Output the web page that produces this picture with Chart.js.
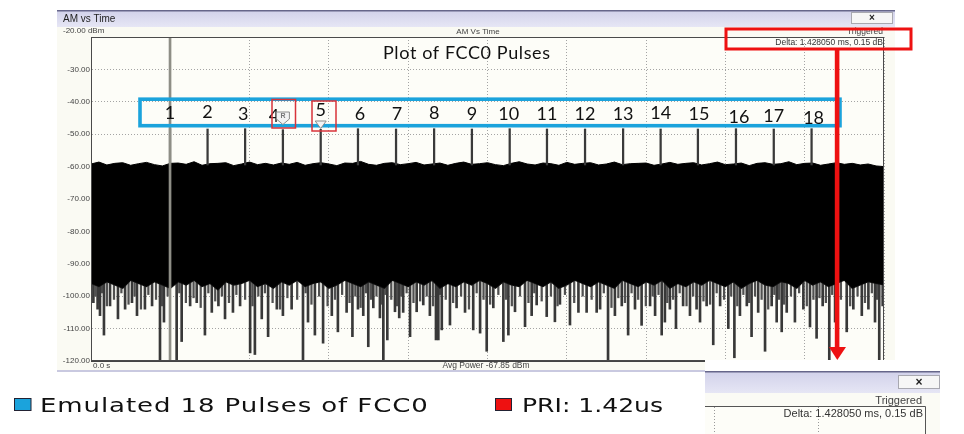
<!DOCTYPE html>
<html><head><meta charset="utf-8">
<script src="https://cdn.jsdelivr.net/npm/chart.js@4.4.1/dist/chart.umd.min.js"></script>
<style>html,body{margin:0;padding:0;background:#fff;overflow:hidden}canvas{display:block}</style>
</head><body>
<canvas id="c" width="964" height="434"></canvas>
<script>
// ---------- data ----------
const yTickValues = [-120,-110,-100,-90,-80,-70,-60,-50,-40,-30,-20];
const xGridValues = [0,3,6,9,12,15,18,21,24,27,30]; // ms
const pulseLabels = ['1','2','3','4','5','6','7','8','9','10','11','12','13','14','15','16','17','18'];
const pulseTimes = [2.99,4.41,5.83,7.26,8.69,10.10,11.54,12.98,14.41,15.84,17.25,18.69,20.13,21.55,22.96,24.40,25.83,27.26];
const pulseTops = [-48.3,-48.4,-48.3,-48.6,-48.5,-48.3,-48.4,-48.3,-48.4,-48.3,-48.4,-48.4,-48.3,-48.4,-48.4,-48.3,-48.4,-48.3];
const pulseBase = -59.5;
const markerTime = 2.99;
const noiseT = [0,0.3,0.6,0.9,1.2,1.5,1.8,2.1,2.4,2.7,3,3.3,3.6,3.9,4.2,4.5,4.8,5.1,5.4,5.7,6,6.3,6.6,6.9,7.2,7.5,7.8,8.1,8.4,8.7,9,9.3,9.6,9.9,10.2,10.5,10.8,11.1,11.4,11.7,12,12.3,12.6,12.9,13.2,13.5,13.8,14.1,14.4,14.7,15,15.3,15.6,15.9,16.2,16.5,16.8,17.1,17.4,17.7,18,18.3,18.6,18.9,19.2,19.5,19.8,20.1,20.4,20.7,21,21.3,21.6,21.9,22.2,22.5,22.8,23.1,23.4,23.7,24,24.3,24.6,24.9,25.2,25.5,25.8,26.1,26.4,26.7,27,27.3,27.6,27.9,28.2,28.5,28.8,29.1,29.4,29.7,30];
const noiseTop = [
-59.2,-58.6,-59.5,-59.0,-58.8,-59.6,-59.1,-58.7,-59.4,-59.8,
-59.0,-58.9,-59.3,-58.5,-59.6,-59.1,-59.0,-58.8,-59.7,-59.2,
-58.6,-59.4,-59.0,-59.5,-58.9,-59.3,-58.7,-59.6,-59.1,-58.8,
-59.2,-59.7,-58.9,-59.0,-58.4,-59.3,-59.6,-59.0,-58.8,-59.4,
-59.1,-58.7,-59.5,-59.2,-58.9,-59.6,-59.0,-58.6,-59.3,-59.1,
-58.8,-59.4,-59.7,-59.0,-58.5,-59.2,-59.5,-58.9,-59.1,-59.6,
-58.7,-59.3,-59.0,-58.8,-59.5,-59.2,-58.6,-59.4,-59.1,-59.0,
-58.9,-59.6,-59.2,-58.7,-59.3,-59.0,-58.8,-59.5,-59.1,-58.6,
-59.4,-59.2,-58.9,-59.7,-59.0,-58.8,-59.3,-59.1,-58.5,-59.4,
-59.0,-58.9,-59.6,-59.2,-58.8,-59.3,-59.0,-59.5,-59.2,-59.8,
-60.0];
const noiseBottom = [
-96,-97,-95.5,-96.5,-97.5,-95,-96,-97,-95.5,-96.5,
-97.5,-95.5,-96.5,-95,-97,-96,-98,-95.5,-96.5,-96,
-95,-97,-96,-97.5,-95.5,-96.5,-95,-97,-96,-95.5,
-97.5,-96.5,-95,-96,-97,-95.5,-96.5,-97.5,-95,-96,
-97,-95.5,-96.5,-95,-97.5,-96,-97,-95.5,-96.5,-95,
-96,-97.5,-95.5,-96.5,-97,-95,-96,-97,-95.5,-97.5,
-96.5,-95,-96,-97,-95.5,-96.5,-97.5,-95,-96,-97,
-95.5,-96.5,-95,-97.5,-96,-97,-95.5,-96.5,-95,-96,
-97,-95.5,-97.5,-96,-95,-96.5,-97,-95.5,-96,-97.5,
-95,-96.5,-95.5,-97,-96,-95,-97.5,-96.5,-95.5,-96,
-96.5];
const spikeStart = -95;
const spikeT = [0.09,0.25,0.34,0.49,0.72,1.02,1.29,1.55,1.74,2.04,2.31,2.61,2.76,3.24,3.43,3.75,4.00,4.31,4.57,4.82,5.07,5.37,5.64,6.02,6.20,6.46,6.70,7.03,7.26,7.59,8.02,8.21,8.47,8.78,9.11,9.34,9.67,9.89,10.10,10.30,10.49,10.68,10.93,11.06,11.21,11.50,11.66,11.81,12.07,12.32,12.57,12.82,13.05,13.14,13.27,13.58,13.83,14.15,14.46,14.72,14.97,15.22,15.60,15.79,16.04,16.42,16.67,16.86,17.24,17.55,17.74,18.12,18.44,18.75,19.13,19.26,19.56,19.82,20.08,20.32,20.58,20.83,21.15,21.34,21.59,21.71,21.90,22.13,22.40,22.66,22.91,23.04,23.29,23.54,23.80,24.11,24.34,24.55,24.81,24.99,25.24,25.50,25.75,25.94,26.13,26.32,26.63,26.95,27.20,27.45,27.68,27.93,28.15,28.59,28.84,29.16,29.41,29.66,29.82,29.95];
const spikeLow = [-102,-104,-106,-112,-103,-107,-104,-102,-106,-104,-103,-120,-108,-120,-114,-103,-102,-112,-105,-103,-107,-105,-103,-117.5,-118,-107,-112.5,-104,-106,-104,-120,-108,-112,-114.5,-106,-111,-105,-112.5,-104,-106,-115.6,-103.6,-106.7,-120,-113.5,-104.8,-106.7,-105,-112.5,-104.8,-102.7,-106,-113.5,-113.5,-110.4,-108.9,-103.6,-105,-110.4,-111.4,-117,-103.6,-114,-112,-104.8,-109.4,-106,-102.7,-106.3,-107.9,-102.5,-108.9,-105,-105,-105,-104,-120,-106,-103,-112,-104,-109,-103,-106,-112,-108,-104,-110,-103,-106,-104,-108,-103,-115,-103,-110,-119,-106,-103,-112.5,-105,-117,-103,-108,-111,-105,-108,-104,-109.5,-113,-103,-120,-108,-111,-104,-106,-104,-108,-120,-103];
const shortSpikeT = [
0.17,0.30,0.42,0.60,0.87,1.15,1.42,1.65,1.89,2.17,
2.46,2.69,2.90,3.34,3.59,3.88,4.15,4.44,4.70,4.95,
5.22,5.50,5.83,6.11,6.33,6.58,6.87,7.15,7.43,7.80,
8.12,8.34,8.63,8.95,9.23,9.50,9.78,10.00,10.20,10.40,
10.59,10.80,11.00,11.14,11.36,11.58,11.74,11.94,12.20,12.45,
12.70,12.94,13.20,13.42,13.70,14.00,14.30,14.59,14.85,15.10,
15.41,15.70,15.92,16.23,16.55,16.77,17.05,17.40,17.65,17.93,
18.28,18.60,18.94,19.40,19.69,19.95,20.20,20.45,20.70,20.99,
21.25,21.47,21.80,22.02,22.27,22.53,22.78,23.17,23.42,23.67,
23.95,24.22,24.45,24.68,24.90,25.12,25.37,25.62,25.85,26.03,
26.22,26.48,26.79,27.08,27.33,27.56,27.80,28.04,28.37,28.72,
29.00,29.28,29.54,29.74];
const shortSpikeLow = [
-100,-102,-99,-103,-101,-99,-102.5,-100,-104,-99.5,
-101,-103,-100,-99,-102,-100.5,-103.5,-99,-101.5,-100,
-102,-99.5,-101,-103,-100,-99,-102,-104,-100.5,-101,
-99,-102.5,-100,-103,-101,-99.5,-102,-100,-103.5,-99,
-101,-100,-102.5,-99.5,-101,-103,-100,-99,-102,-101.5,
-100,-103,-99.5,-101,-102,-100,-104,-99,-101,-102.5,
-99.5,-101,-103,-100,-102,-99,-101.5,-100,-103,-99.5,
-102,-100,-101,-99,-103.5,-100.5,-102,-99,-101,-103,
-100,-99.5,-102,-101,-99,-103,-100,-101.5,-102.5,-99,
-101,-100,-103,-99.5,-102,-100,-101,-104,-99.5,-101,
-102.5,-100,-99,-103,-101,-100.5,-102,-99.5,-101,-103,
-100,-102,-99,-101];
const chartTitle = 'Plot of FCC0 Pulses';
const windowTitle = 'AM vs Time';
const deltaText = 'Delta: 1.428050 ms, 0.15 dB';
const avgPowerText = 'Avg Power -67.85 dBm';
const legendTexts = ['Emulated 18 Pulses of FCC0', 'PRI: 1.42us'];

// ---------- helpers ----------
const pts = (xs, ys) => xs.slice(0, Math.min(xs.length, ys.length)).map((x, i) => ({x, y: ys[i]}));
const bars = (xs, a, b) => xs.slice(0, Array.isArray(b) ? Math.min(xs.length, b.length) : xs.length)
  .map((x, i) => ({x, y: [Array.isArray(a) ? a[i] : a, Array.isArray(b) ? b[i] : b]}));
const SM = 'Liberation Sans, Arial, sans-serif';

function wideText(ctx, text, x, y, width, font, maxScale) {
  ctx.save();
  ctx.font = font; ctx.letterSpacing = '0px';
  const w = ctx.measureText(text).width;
  const s = Math.min(maxScale, width / w);
  const n = [...text].length;
  const sp = (width / s - w) / Math.max(1, n - 1);
  ctx.translate(x, y); ctx.scale(s, 1);
  ctx.letterSpacing = sp.toFixed(2) + 'px';
  ctx.textAlign = 'left';
  ctx.fillText(text, 0, 0);
  ctx.restore();
}
function txt(ctx, s, x, y, font, color, align, base) {
  ctx.font = font; ctx.fillStyle = color; ctx.textAlign = align || 'left'; ctx.textBaseline = base || 'middle';
  ctx.fillText(s, x, y);
}
function titleBar(ctx, x, y, w, h) {
  const g = ctx.createLinearGradient(0, y, 0, y + h);
  g.addColorStop(0, '#d2d2ea'); g.addColorStop(1, '#e6e6f5');
  ctx.fillStyle = g; ctx.fillRect(x, y, w, h);
  ctx.fillStyle = '#66668a'; ctx.fillRect(x, y - 1, w, 1.5);
}
function closeBtn(ctx, x, y, w, h, size) {
  ctx.fillStyle = '#f6f6f6'; ctx.fillRect(x, y, w, h);
  ctx.strokeStyle = '#a8a8b0'; ctx.lineWidth = 1; ctx.strokeRect(x + 0.5, y + 0.5, w - 1, h - 1);
  txt(ctx, '\u00d7', x + w / 2, y + h / 2 + 0.5, 'bold ' + size + 'px ' + SM, '#222', 'center');
}

const chromePlugin = {
  id: 'chrome',
  beforeDraw(chart) {
    const ctx = chart.ctx, a = chart.chartArea;
    ctx.save();
    ctx.fillStyle = '#ffffff'; ctx.fillRect(0, 0, 964, 434);
    // analyzer window
    ctx.fillStyle = '#fafaf3'; ctx.fillRect(57, 10, 838, 361);
    titleBar(ctx, 57, 11, 838, 16);
    closeBtn(ctx, 851, 12, 42, 12, 10);
    txt(ctx, windowTitle, 63, 19, '10px ' + SM, '#222');
    txt(ctx, '-20.00 dBm', 63, 31, '8px ' + SM, '#444');
    txt(ctx, 'AM Vs Time', 478, 32, '8px ' + SM, '#444', 'center');
    txt(ctx, 'Triggered', 883, 32, '8.5px ' + SM, '#444', 'right');
    // plot background
    ctx.fillStyle = '#fdfdf8'; ctx.fillRect(a.left, a.top, a.right - a.left, a.bottom - a.top);
    // status strip
    txt(ctx, '0.0 s', a.left + 2, 366, '8px ' + SM, '#444');
    txt(ctx, avgPowerText, 486, 366, '8.5px ' + SM, '#444', 'center');
    ctx.fillStyle = '#c9c9e0'; ctx.fillRect(57, 370, 838, 2);
    ctx.restore();
  },
  afterDraw(chart) {
    const ctx = chart.ctx, a = chart.chartArea;
    const xs = chart.scales.x;
    ctx.save();
    // plot frame
    ctx.strokeStyle = '#4a4a4a'; ctx.lineWidth = 1;
    ctx.strokeRect(a.left + 0.5, a.top + 0.5, a.right - a.left - 1, a.bottom - a.top - 1);
    // delta readout
    txt(ctx, deltaText, 883, 43, '8.5px ' + SM, '#333', 'right');
    // chart title
    ctx.fillStyle = '#111'; ctx.textBaseline = 'middle';
    wideText(ctx, chartTitle, 383, 53, 167, '18px Lato, Carlito, sans-serif', 1.0);
    // blue pulse frame
    ctx.strokeStyle = '#1ba3dc'; ctx.lineWidth = 3.6;
    ctx.strokeRect(140, 99.2, 700, 26.5);
    // pulse numbers
    const ny = [113,112,114,116,110,114,114,113,114,114,114,114,114,113,114,117,116,118];
    const ndx = [0,0,-2,-9,0,2,1,0,0,-1,0,0,0,0,1,3,0,2];
    pulseLabels.forEach((s, i) => {
      const px = xs.getPixelForValue(pulseTimes[i]);
      txt(ctx, s, px + ndx[i], ny[i], '18px Lato, Carlito, sans-serif', '#111', 'center');
    });
    // reference marker R on pulse 4, delta marker on pulse 5
    const p4 = xs.getPixelForValue(pulseTimes[3]), p5 = xs.getPixelForValue(pulseTimes[4]);
    ctx.beginPath();
    ctx.moveTo(p4 - 6.5, 112); ctx.lineTo(p4 + 6.5, 112); ctx.lineTo(p4 + 6.5, 119);
    ctx.lineTo(p4, 124.5); ctx.lineTo(p4 - 6.5, 119); ctx.closePath();
    ctx.fillStyle = '#f2f2f2'; ctx.fill(); ctx.strokeStyle = '#8a8a8a'; ctx.lineWidth = 1; ctx.stroke();
    txt(ctx, 'R', p4, 116.5, 'bold 7px ' + SM, '#777', 'center');
    ctx.beginPath();
    ctx.moveTo(p5 - 5.5, 121); ctx.lineTo(p5 + 5.5, 121); ctx.lineTo(p5, 128.5); ctx.closePath();
    ctx.fillStyle = '#f4f4f4'; ctx.fill(); ctx.strokeStyle = '#8a8a8a'; ctx.stroke();
    // red boxes around 4 and 5
    ctx.strokeStyle = '#d8333a'; ctx.lineWidth = 1.5;
    ctx.strokeRect(272, 99.5, 23.5, 28.5);
    ctx.strokeRect(312, 101, 24, 30);
    // red delta box + arrow
    ctx.strokeStyle = '#ee1111'; ctx.lineWidth = 3;
    ctx.strokeRect(726, 29, 185, 20);
    ctx.fillStyle = '#ee1111';
    ctx.fillRect(834.8, 50, 4.6, 298);
    ctx.beginPath(); ctx.moveTo(829, 347); ctx.lineTo(846, 347); ctx.lineTo(837.3, 360); ctx.closePath(); ctx.fill();
    // zoomed inset
    ctx.fillStyle = '#ffffff'; ctx.fillRect(705, 360, 235, 74);
    titleBar(ctx, 705, 372, 235, 21);
    closeBtn(ctx, 898, 375, 42, 14, 12);
    ctx.fillStyle = '#fbfbf5'; ctx.fillRect(705, 393, 235, 41);
    txt(ctx, 'Triggered', 922, 400.5, '11px ' + SM, '#444', 'right');
    ctx.fillStyle = '#fdfdf8'; ctx.fillRect(705, 406, 220, 28);
    ctx.strokeStyle = '#555'; ctx.lineWidth = 1;
    ctx.beginPath(); ctx.moveTo(705, 406.5); ctx.lineTo(925.5, 406.5); ctx.lineTo(925.5, 434); ctx.stroke();
    ctx.strokeStyle = '#999'; ctx.setLineDash([1, 2]);
    ctx.beginPath(); ctx.moveTo(714.5, 407); ctx.lineTo(714.5, 434); ctx.moveTo(818.5, 407); ctx.lineTo(818.5, 434); ctx.stroke();
    ctx.setLineDash([]);
    txt(ctx, deltaText, 923, 414, '11px ' + SM, '#333', 'right');
    // slide legend
    ctx.fillStyle = '#1ba3dc'; ctx.fillRect(14.5, 398.5, 16.5, 12);
    ctx.strokeStyle = '#223'; ctx.lineWidth = 1; ctx.strokeRect(14.5, 398.5, 16.5, 12);
    ctx.fillStyle = '#ee1111'; ctx.fillRect(495.5, 398.5, 16, 12);
    ctx.strokeRect(495.5, 398.5, 16, 12);
    ctx.fillStyle = '#111'; ctx.textBaseline = 'alphabetic';
    wideText(ctx, legendTexts[0], 40, 412, 388, '20px "DejaVu Sans", sans-serif', 1.3);
    wideText(ctx, legendTexts[1], 522, 412, 141, '20px "DejaVu Sans", sans-serif', 1.3);
    ctx.restore();
  }
};

new Chart(document.getElementById('c'), {
  type: 'line',
  data: {
    datasets: [
      { type: 'bar', label: 'marker', data: bars([markerTime], -120, -20), backgroundColor: '#8e8e86',
        barThickness: 2, grouped: false },
      { type: 'bar', label: 'pulses', data: bars(pulseTimes, pulseBase, pulseTops), backgroundColor: '#3a3a3a',
        barThickness: 1.6, grouped: false },
      { type: 'line', label: 'noise top', data: pts(noiseT, noiseTop), borderColor: '#000', borderWidth: 1,
        backgroundColor: '#000', fill: '+1', pointRadius: 0, tension: 0 },
      { type: 'line', label: 'noise floor', data: pts(noiseT, noiseBottom), borderColor: '#111', borderWidth: 1.5,
        pointRadius: 0, tension: 0, fill: false },
      { type: 'bar', label: 'noise spikes', data: bars(spikeT, spikeStart, spikeLow), backgroundColor: '#383838',
        barThickness: 2, grouped: false },
      { type: 'bar', label: 'short spikes', data: bars(shortSpikeT, spikeStart, shortSpikeLow), backgroundColor: '#505050',
        barThickness: 1.6, grouped: false }
    ]
  },
  options: {
    responsive: false, devicePixelRatio: 1, animation: false,
    layout: { padding: { left: 0, top: 37, right: 80, bottom: 73 } },
    plugins: { legend: { display: false }, tooltip: { enabled: false } },
    scales: {
      x: { type: 'linear', min: 0, max: 30, offset: false,
        afterBuildTicks: s => { s.ticks = xGridValues.map(v => ({ value: v })); },
        afterFit: s => { s.height = 0; },
        ticks: { display: false },
        grid: { color: '#a4a4a4', lineWidth: 1, drawTicks: false, offset: false },
        border: { color: '#444', dash: [1, 2] } },
      y: { type: 'linear', min: -120, max: -20, beginAtZero: false,
        afterBuildTicks: s => { s.ticks = yTickValues.map(v => ({ value: v })); },
        afterFit: s => { s.width = 91; },
        ticks: { padding: 1, color: '#444', font: { family: SM, size: 8 },
          callback: v => (v === -20 ? '' : v.toFixed(2)) },
        grid: { color: '#a4a4a4', lineWidth: 1, drawTicks: false },
        border: { color: '#444', dash: [1, 2] } }
    }
  },
  plugins: [chromePlugin]
});
</script>
</body></html>
